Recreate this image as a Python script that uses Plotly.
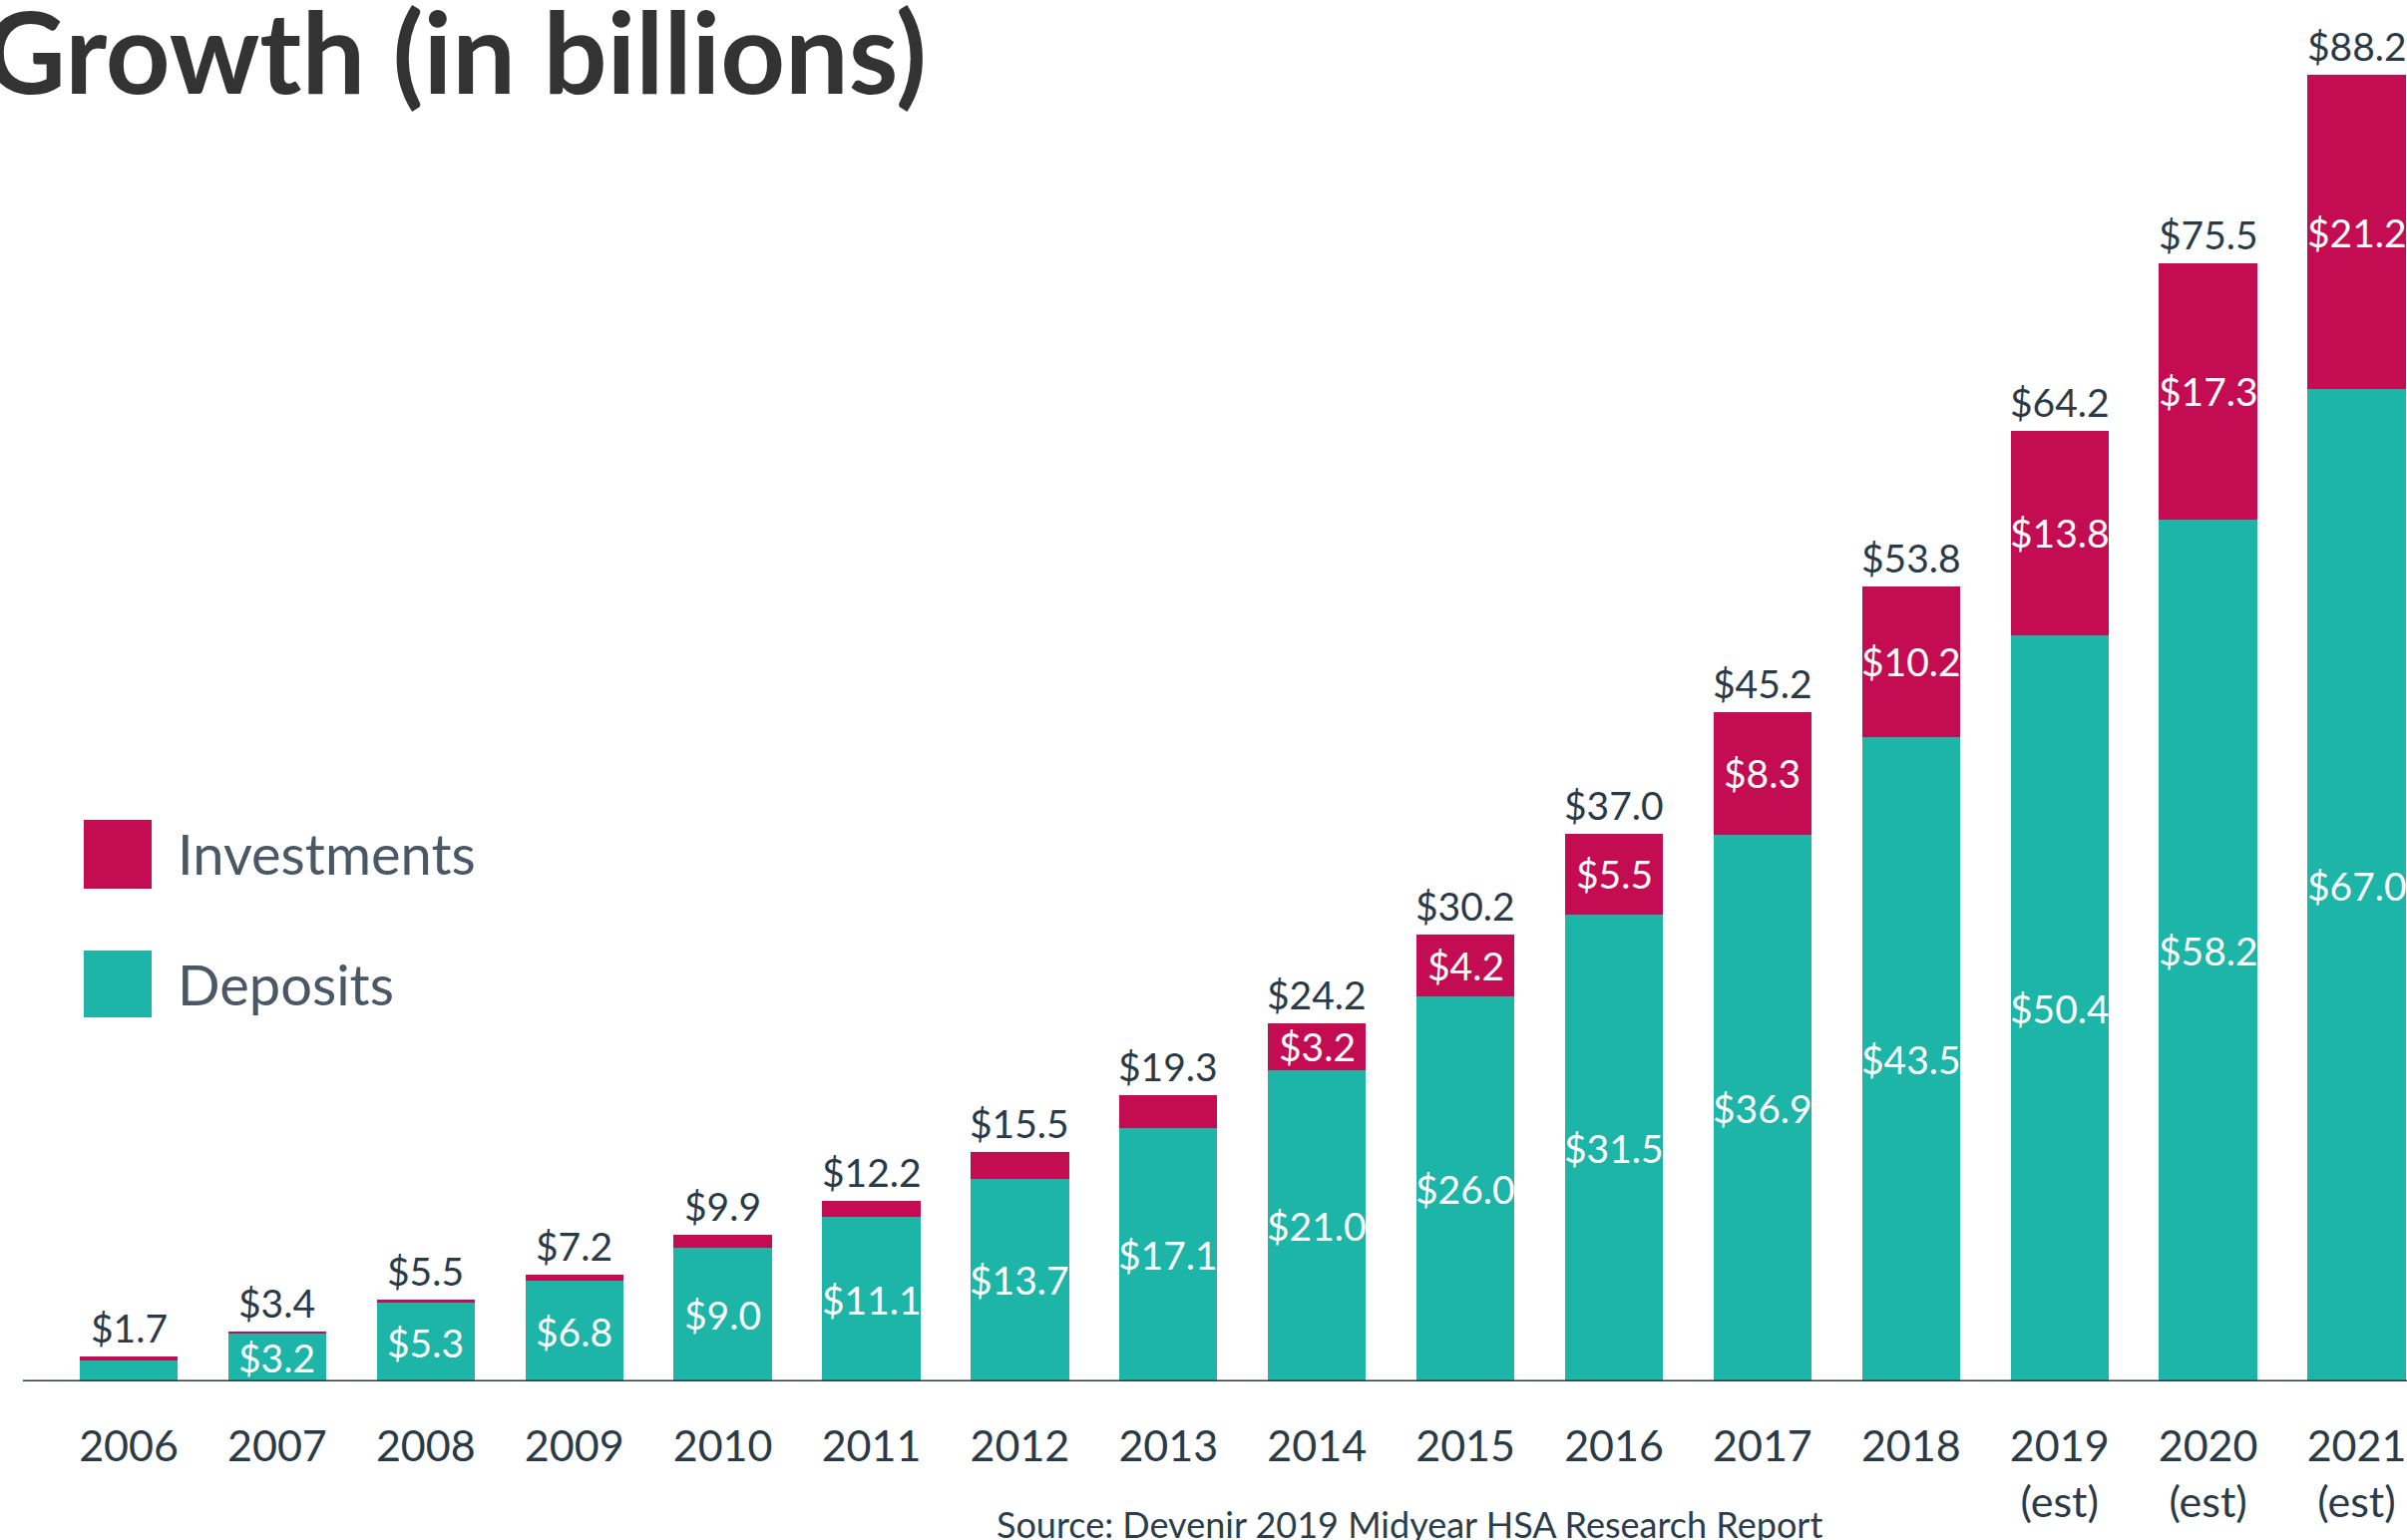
import plotly.graph_objects as go

years = ["2006", "2007", "2008", "2009", "2010", "2011", "2012", "2013",
         "2014", "2015", "2016", "2017", "2018", "2019", "2020", "2021"]
tick_labels = ["2006", "2007", "2008", "2009", "2010", "2011", "2012", "2013",
               "2014", "2015", "2016", "2017", "2018",
               "2019<br>(est)", "2020<br>(est)", "2021<br>(est)"]
deposits = [1.4, 3.2, 5.3, 6.8, 9.0, 11.1, 13.7, 17.1,
            21.0, 26.0, 31.5, 36.9, 43.5, 50.4, 58.2, 67.0]
investments = [0.3, 0.2, 0.2, 0.4, 0.9, 1.1, 1.8, 2.2,
               3.2, 4.2, 5.5, 8.3, 10.2, 13.8, 17.3, 21.2]
totals = [1.7, 3.4, 5.5, 7.2, 9.9, 12.2, 15.5, 19.3,
          24.2, 30.2, 37.0, 45.2, 53.8, 64.2, 75.5, 88.2]
deposit_labels = ["", "$3.2", "$5.3", "$6.8", "$9.0", "$11.1", "$13.7", "$17.1",
                  "$21.0", "$26.0", "$31.5", "$36.9", "$43.5", "$50.4", "$58.2", "$67.0"]
invest_labels = ["", "", "", "", "", "", "", "",
                 "$3.2", "$4.2", "$5.5", "$8.3", "$10.2", "$13.8", "$17.3", "$21.2"]

TEAL = "#1cb5a8"
MAGENTA = "#c40c52"
DARK = "#2b3a47"
FONT = "Lato"

W, H = 2413, 1544
MB = 159
PH = H - MB

x = list(range(len(years)))

fig = go.Figure()
fig.add_trace(go.Bar(x=x, y=deposits, name="Deposits", marker_color=TEAL,
                     marker_line_width=0, width=0.66, hoverinfo="skip"))
fig.add_trace(go.Bar(x=x, y=investments, name="Investments", marker_color=MAGENTA,
                     marker_line_width=0, width=0.66, hoverinfo="skip"))

ann = []
for i in x:
    top = deposits[i] + investments[i]
    ann.append(dict(x=i, y=top, xref="x", yref="y", text=f"${totals[i]:.1f}",
                    showarrow=False, yanchor="bottom", yshift=4,
                    font=dict(family=FONT, size=39, color=DARK)))
    if deposit_labels[i]:
        ann.append(dict(x=i, y=deposits[i] / 2, xref="x", yref="y", text=deposit_labels[i],
                        showarrow=False, yanchor="middle",
                        font=dict(family=FONT, size=39, color="white")))
    if invest_labels[i]:
        ann.append(dict(x=i, y=deposits[i] + investments[i] / 2, xref="x", yref="y",
                        text=invest_labels[i], showarrow=False, yanchor="middle",
                        font=dict(family=FONT, size=39, color="white")))

def py(px):
    return (PH - px) / PH

# title
ann.append(dict(x=0, y=py(50), xref="paper", yref="paper", text="<b>Growth (in billions)</b>",
                showarrow=False, xanchor="left", yanchor="middle", xshift=-18,
                font=dict(family=FONT, size=113, color="#333333")))
# legend texts
ann.append(dict(x=176 / W, y=py(855), xref="paper", yref="paper", text="Investments",
                showarrow=False, xanchor="left", yanchor="middle",
                font=dict(family=FONT, size=56, color="#4a5865")))
ann.append(dict(x=176 / W, y=py(986), xref="paper", yref="paper", text="Deposits",
                showarrow=False, xanchor="left", yanchor="middle",
                font=dict(family=FONT, size=56, color="#4a5865")))
# source
ann.append(dict(x=1413 / W, y=py(1528), xref="paper", yref="paper",
                text="Source: Devenir 2019 Midyear HSA Research Report",
                showarrow=False, xanchor="center", yanchor="middle",
                font=dict(family=FONT, size=36, color="#2c3e4c")))

shapes = [
    dict(type="rect", xref="paper", yref="paper", x0=84 / W, x1=152 / W,
         y0=py(891), y1=py(822), fillcolor=MAGENTA, line_width=0),
    dict(type="rect", xref="paper", yref="paper", x0=84 / W, x1=152 / W,
         y0=py(1020), y1=py(953), fillcolor=TEAL, line_width=0),
    dict(type="line", xref="paper", yref="y", x0=23 / W, x1=1, y0=0, y1=0,
         line=dict(color="#2c3a45", width=3), layer="above"),
]

fig.update_layout(
    width=W, height=H,
    barmode="stack",
    showlegend=False,
    plot_bgcolor="white", paper_bgcolor="white",
    margin=dict(l=0, r=0, t=0, b=MB),
    annotations=ann, shapes=shapes,
    xaxis=dict(range=[-129 / 148.9, (W - 129) / 148.9], tickvals=x, ticktext=tick_labels,
               showgrid=False, zeroline=False, showline=False,
               ticks="outside", ticklen=27, tickcolor="rgba(0,0,0,0)",
               tickfont=dict(family=FONT, size=43, color=DARK)),
    yaxis=dict(range=[0, PH / 14.85], visible=False, showgrid=False, zeroline=False),
)

fig.write_html("out.html", config={"displayModeBar": False},
               post_script="document.body.style.margin='0';document.body.style.overflow='hidden';")
